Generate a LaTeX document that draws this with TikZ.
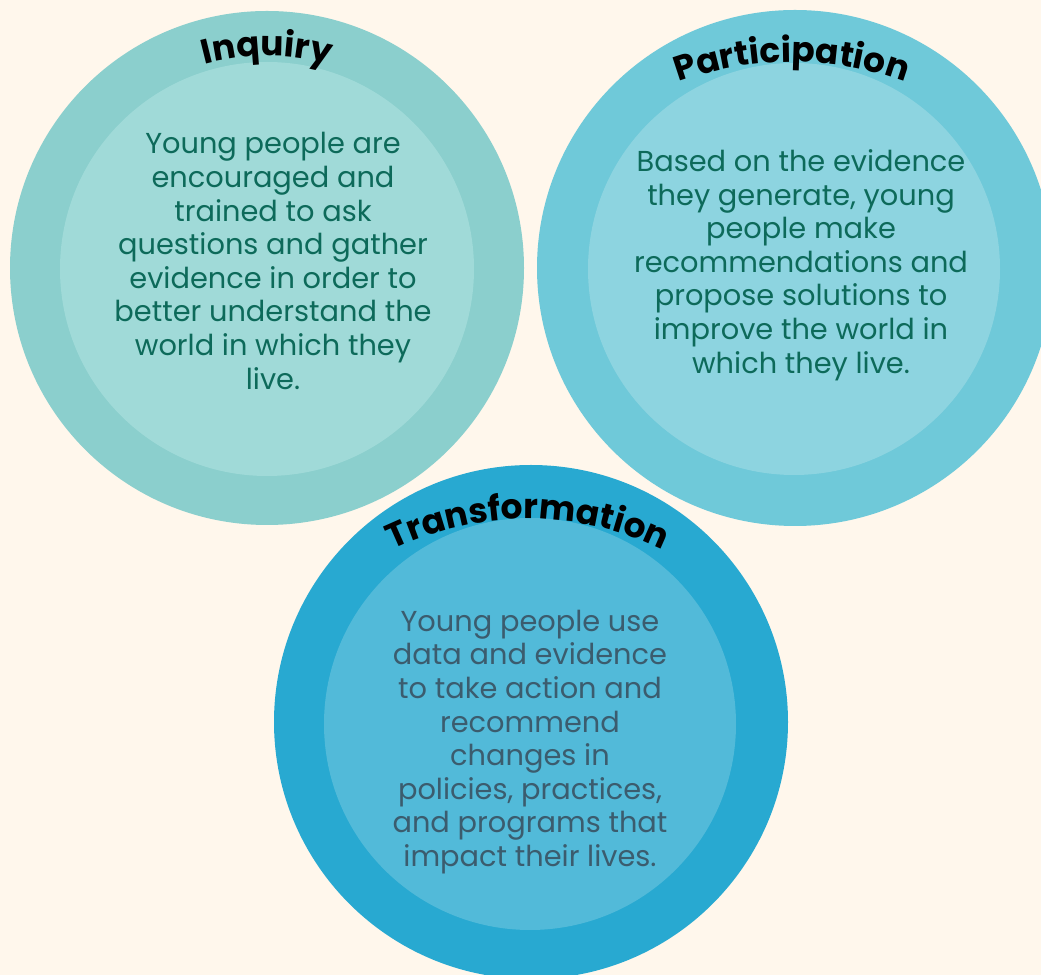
\documentclass[tikz,border=0pt]{standalone}
\usepackage{fontspec}
\setmainfont{Poppins}
\usetikzlibrary{decorations.text}
\definecolor{cream}{HTML}{FFF7EC}
\definecolor{inqOut}{HTML}{8BCFCD}
\definecolor{inqIn}{HTML}{A0DAD8}
\definecolor{parOut}{HTML}{6FC9D9}
\definecolor{parIn}{HTML}{8DD4E0}
\definecolor{traOut}{HTML}{28A9D1}
\definecolor{traIn}{HTML}{52BAD9}
\definecolor{bodyGreen}{HTML}{0D6A5A}
\definecolor{bodySlate}{HTML}{3B5C6E}
\tikzset{
  bodytext/.style={anchor=center,align=center,font=\fontsize{20.5}{23.9}\selectfont},
  titlearc/.style={decorate,decoration={text along path,text align=center,
    text={|\fontsize{24.5}{28}\selectfont\bfseries|#1}}}
}
\begin{document}
\begin{tikzpicture}[x=0.025cm,y=0.025cm]
  \useasboundingbox (0,0) rectangle (1041,975);
  \fill[cream] (0,0) rectangle (1041,975);
  \clip (0,0) rectangle (1041,975);
  % circles
  \fill[inqOut] (267,707) circle (257);
  \fill[inqIn] (267,706) circle (207);
  \fill[parOut] (795,707) circle (258);
  \fill[parIn] (794,706) circle (206);
  \fill[traOut] (531,253) circle (257);
  \fill[traIn] (530,251) circle (206);
  % titles
  \path[titlearc=Inquiry] (267,679) ++(150:240) arc[start angle=150,end angle=30,radius=240];
  \path[titlearc=Participation] (792,583) ++(150:330) arc[start angle=150,end angle=30,radius=330];
  \path[titlearc=Transformation] (528,146) ++(150:310) arc[start angle=150,end angle=30,radius=310];
  % texts
  \node[bodytext,text=bodyGreen] (inquiry) at (273,714) {Young people are\\encouraged and\\trained to ask\\questions and gather\\evidence in order to\\better understand the\\world in which they\\live.};
  \node[bodytext,text=bodyGreen] (participation) at (801,710) {Based on the evidence\\they generate, young\\people make\\recommendations and\\propose solutions to\\improve the world in\\which they live.};
  \node[bodytext,text=bodySlate] (transformation) at (530,233) {Young people use\\data and evidence\\to take action and\\recommend\\changes in\\policies, practices,\\and programs that\\impact their lives.};
\end{tikzpicture}
\end{document}
